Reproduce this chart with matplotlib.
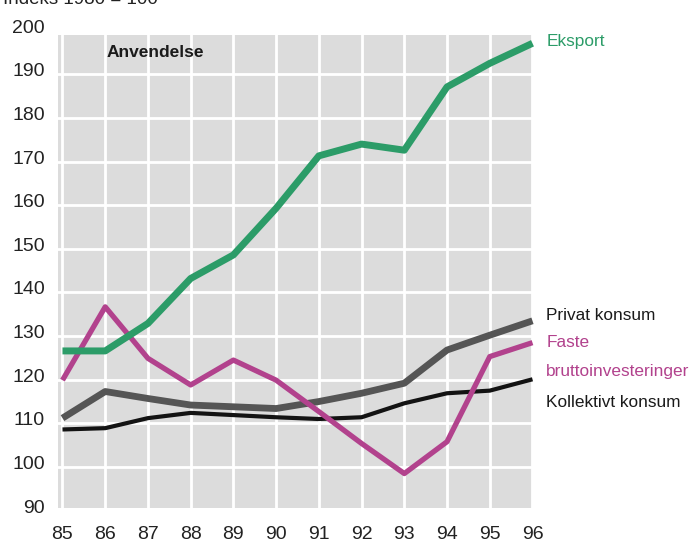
import matplotlib.pyplot as plt
from matplotlib.transforms import ScaledTranslation

plt.rcParams['font.family'] = ['Liberation Sans', 'DejaVu Sans']

years = [85, 86, 87, 88, 89, 90, 91, 92, 93, 94, 95, 96]
eksport = [126.6, 126.6, 132.9, 143.2, 148.6, 159.3, 171.3, 174.0, 172.6, 187.1, 192.5, 197.1]
faste = [119.9, 136.7, 124.9, 118.8, 124.5, 119.9, 112.7, 105.4, 98.5, 105.8, 125.3, 128.5]
privat = [111.2, 117.3, 115.7, 114.2, 113.8, 113.4, 115.0, 116.9, 119.2, 126.8, 130.2, 133.5]
kollektivt = [108.6, 108.9, 111.2, 112.4, 111.9, 111.4, 111.0, 111.4, 114.6, 116.9, 117.5, 120.1]
yticks = [90, 100, 110, 120, 130, 140, 150, 160, 170, 180, 190, 200]

green = '#2c9c68'
pink = '#b2428d'
grey = '#555555'
black = '#131313'

fig = plt.figure(figsize=(6.94, 5.43), dpi=100)
ax = fig.add_axes([58 / 694, 30 / 543, 482 / 694, 485 / 543])
ax.set_facecolor('none')

# shaded panel behind the lines (the 200 label sits above it)
ax.fill_between([84.9, 96.0], 90.6, 199.0, color='#dcdcdc', lw=0, zorder=0.2)

ax.plot(years, kollektivt, color=black, lw=3.0, solid_capstyle='butt', zorder=3)
ax.plot(years, privat, color=grey, lw=4.9, solid_capstyle='butt', zorder=4)
ax.plot(years, faste, color=pink, lw=3.8, solid_capstyle='butt', zorder=5)
ax.plot(years, eksport, color=green, lw=5.0, solid_capstyle='butt', zorder=6)

ax.set_xticks(years)
ax.set_xticklabels([str(y) for y in years])
ax.set_yticks(yticks)
ax.set_xlim(84.895, 96.176)
ax.set_ylim(89.46, 200.6)
ax.grid(True, color='white', lw=2.0, zorder=0.5)
ax.set_axisbelow(True)
ax.tick_params(length=0, labelsize=14, colors='#222222')
ax.tick_params(axis='x', pad=9.4)
ax.tick_params(axis='y', pad=9.4)
for s in ax.spines.values():
    s.set_visible(False)

# y labels sit a little above their grid lines
shift = ScaledTranslation(0, 4.5 / 100, fig.dpi_scale_trans)
for lab in ax.get_yticklabels():
    lab.set_transform(lab.get_transform() + shift)

ax.text(86.03, 195.1, 'Anvendelse', fontsize=12.5, fontweight='bold',
        color='#1a1a1a', va='center', ha='left')

# series names at the right end of each line
lab_x = 96.32
fs = 12.4
ax.text(lab_x, 197.4, 'Eksport', color=green, fontsize=fs, va='center', clip_on=False)
ax.text(lab_x, 134.8, 'Privat konsum', color='#1a1a1a', fontsize=fs, va='center', clip_on=False)
ax.text(lab_x, 128.6, 'Faste', color=pink, fontsize=fs, va='center', clip_on=False)
ax.text(lab_x, 121.8, 'bruttoinvesteringer', color=pink, fontsize=fs, va='center', clip_on=False)
ax.text(lab_x, 114.7, 'Kollektivt konsum', color='#1a1a1a', fontsize=fs, va='center', clip_on=False)

fig.text(0.004, 1.0, 'Indeks 1980 = 100', fontsize=13.5, color='#222222', va='center', ha='left')

fig.savefig('out.png', dpi=100)
